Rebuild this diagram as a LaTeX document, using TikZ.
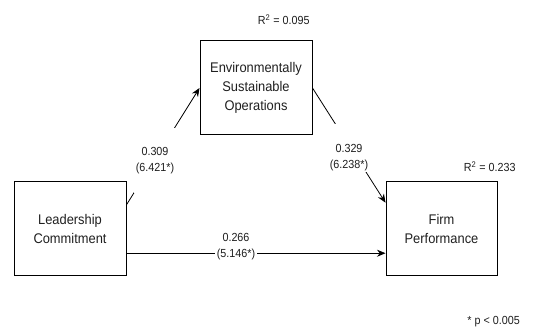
\documentclass[tikz,border=0pt]{standalone}
\usepackage{fontspec}
\setmainfont{Liberation Sans}
\newfontfamily\nfont[FakeStretch=0.92]{Liberation Sans}
\usetikzlibrary{arrows.meta,calc}
\definecolor{txt}{gray}{0.12}
\begin{document}
\begin{tikzpicture}[x=1pt,y=-1pt,
  box/.style={draw=black,line width=1pt,minimum width=112pt,minimum height=94pt,inner sep=0pt,align=center,font=\nfont\fontsize{14}{19}\selectfont,text=txt},
  conn/.style={draw=black,line width=0.8pt,-{Stealth[length=8.5pt,width=7pt]}},
  coef/.style={fill=white,inner xsep=1.5pt,inner ysep=1pt,align=center,font=\nfont\fontsize{11.7}{16}\selectfont,text=txt},
  note/.style={font=\nfont\fontsize{11.7}{13}\selectfont,text=txt,inner sep=0pt}]
\useasboundingbox (0,0) rectangle (548,328);
\node[box] (LC) at (70,229) {Leadership\\Commitment};
\node[box] (ESO) at (256,88) {Environmentally\\Sustainable\\Operations};
\node[box,minimum width=111pt] (FP) at (441.5,229) {Firm\\Performance};
\coordinate (lcout) at ($(LC.north east)!0.245!(LC.south east)$);
\coordinate (fpin) at ($(FP.north west)!0.223!(FP.south west)$);
\coordinate (lch) at ($(LC.north east)!0.755!(LC.south east)$);
\coordinate (fph) at ($(FP.north west)!0.755!(FP.south west)$);
\draw[conn] (lcout) -- (ESO.west);
\draw[conn] (ESO.east) -- (fpin);
\draw[conn] (lch) -- (fph);
\node[coef,anchor=north] (c1) at (155,128) {\rule{0pt}{26.5pt}0.309\\(6.421*)\rule[-20pt]{0pt}{20pt}};
\node[coef,anchor=north] (c2) at (349,124) {\rule{0pt}{27.5pt}0.329\\(6.238*)};
\node[coef] (c3) at (236,247) {0.266\\(5.146*)};
\node[note,anchor=base] (r1) at (283.7,25) {R\textsuperscript{2} = 0.095};
\node[note,anchor=base] (r2) at (489.7,172) {R\textsuperscript{2} = 0.233};
\node[note,anchor=base east] (pn) at (520,324.5) {* p < 0.005};
\end{tikzpicture}
\end{document}
